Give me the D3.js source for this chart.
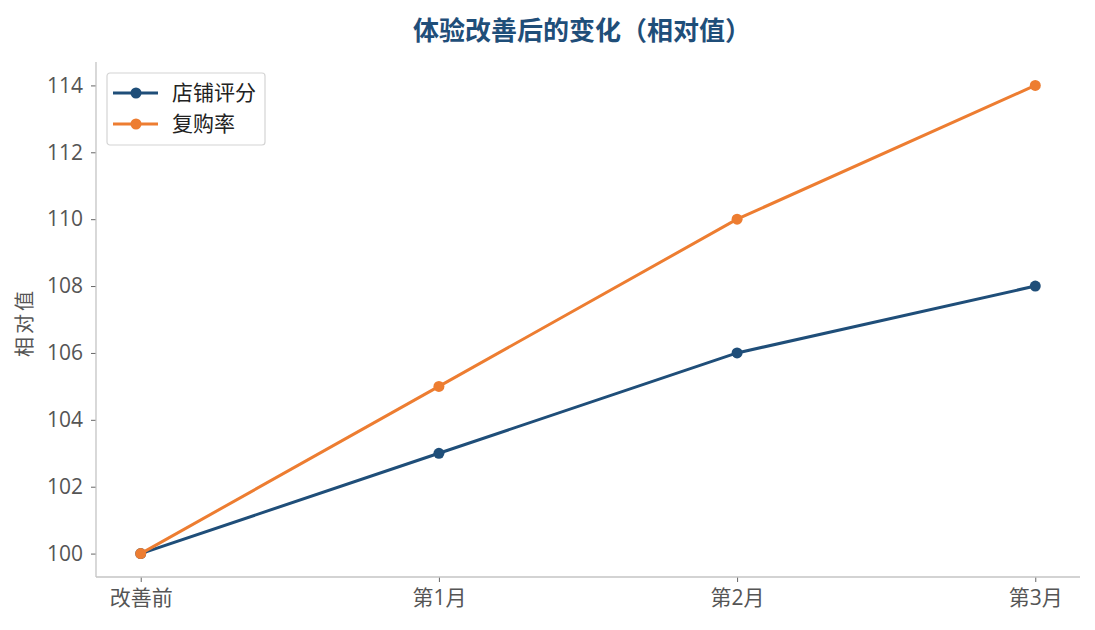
<!DOCTYPE html>
<html>
<head>
<meta charset="utf-8">
<script src="https://cdn.jsdelivr.net/npm/d3@7"></script>
<style>
  body { margin: 0; background: #fff; }
  svg { font-family: "Open Sans", "Noto Sans CJK SC", sans-serif; }
</style>
</head>
<body>
<svg id="chart" width="1095" height="630"></svg>
<script>
// 数据
const categories = ['改善前', '第1月', '第2月', '第3月'];
const seriesNames = ['店铺评分', '复购率'];
const ratingValues = [100, 103, 106, 108];
const repurchaseValues = [100, 105, 110, 114];
const yTicks = [100, 102, 104, 106, 108, 110, 112, 114];

const colors = { '店铺评分': '#1f4e79', '复购率': '#ed7d31' };

const width = 1095, height = 630;
const margin = { top: 62, right: 15, bottom: 53, left: 96 };
const innerWidth = width - margin.left - margin.right;
const innerHeight = height - margin.top - margin.bottom;

const svg = d3.select('#chart');
const g = svg.append('g').attr('transform', `translate(${margin.left},${margin.top})`);

// scales, matplotlib-style margins
const x = d3.scaleLinear()
    .domain([-0.15, categories.length - 1 + 0.15])
    .range([0, innerWidth]);

const y = d3.scaleLinear()
    .domain([99.3, 114.7])
    .range([innerHeight, 0]);

// axes
const xAxis = g.append('g')
    .attr('transform', `translate(0,${innerHeight})`)
    .call(d3.axisBottom(x).tickValues(d3.range(categories.length)).tickFormat(i => categories[i]).tickSizeOuter(0).tickSize(5).tickPadding(8));

const yAxis = g.append('g')
    .call(d3.axisLeft(y).tickValues(yTicks).tickSizeOuter(0).tickSize(5).tickPadding(8));

[xAxis, yAxis].forEach(ax => {
    ax.select('.domain').remove();
    ax.selectAll('.tick line').attr('stroke', '#666').attr('stroke-width', 1);
    ax.selectAll('.tick text').attr('fill', '#555').style('font-size', '21px')
        .style('font-family', '"Open Sans", "Noto Sans CJK SC", sans-serif');
});

// spines (left and bottom only)
g.append('line')
    .attr('x1', 0).attr('x2', 0)
    .attr('y1', 0).attr('y2', innerHeight)
    .attr('stroke', '#c4c4c4').attr('stroke-width', 1.3);
g.append('line')
    .attr('x1', 0).attr('x2', innerWidth)
    .attr('y1', innerHeight).attr('y2', innerHeight)
    .attr('stroke', '#c4c4c4').attr('stroke-width', 1.3);

// y label
g.append('text')
    .attr('transform', 'rotate(-90)')
    .attr('x', -innerHeight / 2 - 3)
    .attr('y', -margin.left + 32)
    .attr('text-anchor', 'middle')
    .attr('fill', '#555')
    .style('font-size', '20px')
    .style('letter-spacing', '3px')
    .text('相对值');

// title
svg.append('text')
    .attr('x', 582)
    .attr('y', 40)
    .attr('text-anchor', 'middle')
    .attr('fill', '#1f4e79')
    .style('font-size', '26px')
    .style('font-weight', 'bold')
    .style('font-family', '"Noto Sans CJK SC", sans-serif')
    .text('体验改善后的变化（相对值）');

// lines
const seriesData = [
    { name: seriesNames[0], values: ratingValues },
    { name: seriesNames[1], values: repurchaseValues }
];

const line = d3.line()
    .x((d, i) => x(i))
    .y(d => y(d));

seriesData.forEach(s => {
    g.append('path')
        .datum(s.values)
        .attr('fill', 'none')
        .attr('stroke', colors[s.name])
        .attr('stroke-width', 3)
        .attr('d', line);
    g.selectAll(null)
        .data(s.values)
        .enter()
        .append('circle')
        .attr('cx', (d, i) => x(i))
        .attr('cy', d => y(d))
        .attr('r', 5.5)
        .attr('fill', colors[s.name]);
});

// legend
const legend = g.append('g').attr('transform', 'translate(11,11)');
legend.append('rect')
    .attr('width', 158)
    .attr('height', 72)
    .attr('rx', 3)
    .attr('fill', '#fff')
    .attr('stroke', '#d4d4d4')
    .attr('stroke-width', 1.2);

seriesNames.forEach((name, i) => {
    const ly = 20 + i * 31;
    legend.append('line')
        .attr('x1', 6).attr('x2', 51)
        .attr('y1', ly).attr('y2', ly)
        .attr('stroke', colors[name])
        .attr('stroke-width', 3);
    legend.append('circle')
        .attr('cx', 29).attr('cy', ly).attr('r', 5.5)
        .attr('fill', colors[name]);
    legend.append('text')
        .attr('x', 65).attr('y', ly + 7)
        .attr('fill', '#222')
        .style('font-size', '21px')
        .text(name);
});
</script>
</body>
</html>
